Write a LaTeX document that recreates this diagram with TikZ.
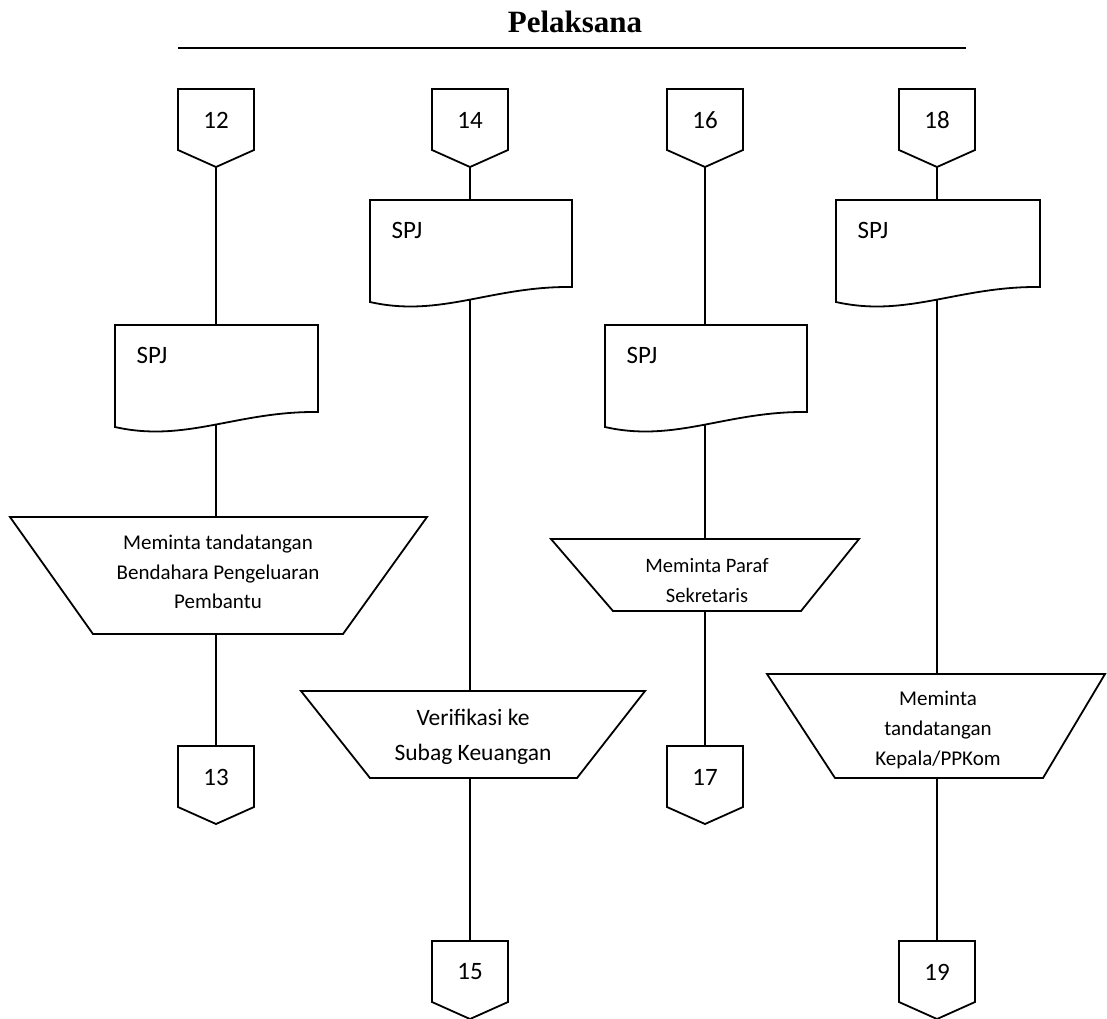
\documentclass[tikz,border=0pt]{standalone}
\usepackage{fontspec}
\setmainfont{Carlito}
\newfontfamily\titlefont{Liberation Serif}
\newcommand{\offpg}[4]{%
  \draw[shp] (#2-38,#3) -- (#2+38,#3) -- (#2+38,#3+61) -- (#2,#3+78) -- (#2-38,#3+61) -- cycle;
  \node[lbl,font=\fontsize{25}{25}\selectfont] (#1) at (#2,#3+31) {#4};
  \coordinate (#1t) at (#2,#3);
  \coordinate (#1b) at (#2,#3+78);
}
\newcommand{\docsh}[5]{% name, left, top, right, cx
  \draw[shp] (#2,#3) -- (#4,#3) -- (#4,#3+87)
    .. controls ({#2+0.6*(#4-#2)},#3+86) and ({#2+0.35*(#4-#2)},#3+118) .. (#2,#3+102) -- cycle;
  \node[lbl,font=\fontsize{25}{25}\selectfont] (#1) at (#2+37,#3+30) {SPJ};
  \coordinate (#1t) at (#5,#3);
  \coordinate (#1b) at (#5,#3+100);
}
\newcommand{\trapz}[8]{% name, ytop, tl, tr, ybot, bl, br, cx
  \draw[shp] (#3,#2) -- (#4,#2) -- (#7,#5) -- (#6,#5) -- cycle;
  \coordinate (#1t) at (#8,#2);
  \coordinate (#1b) at (#8,#5);
}
\begin{document}
\begin{tikzpicture}[x=1pt,y=-1pt,
  shp/.style={draw=black,line width=1.8pt,line join=miter},
  conn/.style={draw=black,line width=1.4pt},
  lbl/.style={inner sep=0pt,align=center,text=black},
  tlbl/.style={lbl,font=\fontsize{21}{29.5}\selectfont}]
\useasboundingbox (0,0) rectangle (1107,1018);

% title
\node[font=\titlefont\bfseries\fontsize{31}{31}\selectfont, anchor=base, inner sep=0pt] (title) at (575,32) {Pelaksana};
\coordinate (hl) at (178,48);
\coordinate (hr) at (966,48);
\draw[line width=2pt] (hl) -- (hr);

% column 1
\offpg{o12}{216}{89}{12}
\docsh{d1}{115}{325}{318}{216}
\trapz{t1}{517}{10}{427}{634}{93}{343}{216}
\node[tlbl] (t1text) at (218,572) {Meminta tandatangan\\Bendahara Pengeluaran\\Pembantu};
\offpg{o13}{216}{746}{13}
\draw[conn] (o12b) -- (d1t);
\draw[conn] (d1b) -- (t1t);
\draw[conn] (t1b) -- (o13t);

% column 2
\offpg{o14}{470}{89}{14}
\docsh{d2}{370}{200}{572}{470}
\trapz{t2}{691}{301}{645}{778}{370}{577}{470}
\node[lbl,font=\fontsize{23.5}{35}\selectfont] (t2text) at (473,737) {Verifikasi ke\\Subag Keuangan};
\offpg{o15}{470}{941}{15}
\draw[conn] (o14b) -- (d2t);
\draw[conn] (d2b) -- (t2t);
\draw[conn] (t2b) -- (o15t);

% column 3
\offpg{o16}{705}{89}{16}
\docsh{d3}{605}{325}{807}{705}
\trapz{t3}{539}{551}{859}{611}{613}{801}{705}
\node[tlbl,font=\fontsize{20.5}{30}\selectfont] (t3text) at (707,581) {Meminta Paraf\\Sekretaris};
\offpg{o17}{705}{746}{17}
\draw[conn] (o16b) -- (d3t);
\draw[conn] (d3b) -- (t3t);
\draw[conn] (t3b) -- (o17t);

% column 4
\offpg{o18}{937}{89}{18}
\docsh{d4}{836}{200}{1040}{937}
\trapz{t4}{674}{767}{1105}{778}{835}{1043}{937}
\node[tlbl,font=\fontsize{21}{30}\selectfont] (t4text) at (938,730) {Meminta\\tandatangan\\Kepala/PPKom};
\offpg{o19}{937}{941}{19}
\draw[conn] (o18b) -- (d4t);
\draw[conn] (d4b) -- (t4t);
\draw[conn] (t4b) -- (o19t);
\end{tikzpicture}
\end{document}
